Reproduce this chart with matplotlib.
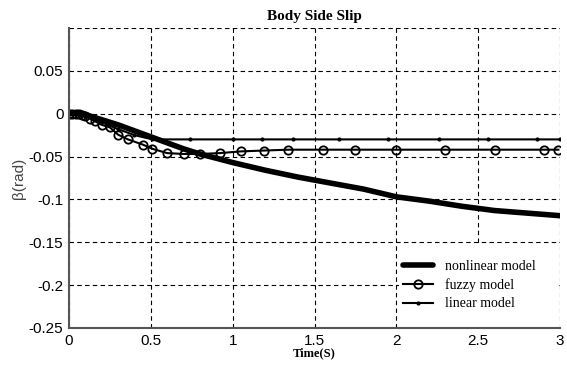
import numpy as np
import matplotlib.pyplot as plt
from matplotlib.patches import Rectangle

# nonlinear model
t_nl = [0, 0.05, 0.1, 0.15, 0.2, 0.3, 0.4, 0.5, 0.6, 0.7, 0.8, 0.9, 1.0, 1.2,
        1.4, 1.6, 1.8, 2.0, 2.2, 2.4, 2.6, 2.8, 3.0]
b_nl = [0, 0, -0.001, -0.004, -0.007, -0.013, -0.020, -0.027, -0.034, -0.041,
        -0.047, -0.052, -0.057, -0.066, -0.074, -0.081, -0.088, -0.097,
        -0.102, -0.108, -0.113, -0.116, -0.119]

# fuzzy model
t_fz = [0, 0.02, 0.04, 0.06, 0.08, 0.1, 0.13, 0.16, 0.2, 0.25, 0.3, 0.36, 0.45,
        0.51, 0.6, 0.7, 0.8, 0.92, 1.05, 1.19, 1.34, 1.55, 1.75, 2.0, 2.3,
        2.6, 2.9, 2.99]
b_fz = [0, 0, 0, 0, -0.001, -0.003, -0.006, -0.009, -0.013, -0.016, -0.0245,
        -0.030, -0.036, -0.041, -0.046, -0.047, -0.047, -0.046, -0.044,
        -0.043, -0.042, -0.042, -0.042, -0.042, -0.042, -0.042, -0.042, -0.042]

# linear model
t_ln = [0, 0.1, 0.2, 0.3, 0.4, 0.51, 0.74, 1.0, 1.18, 1.37, 1.65, 1.95, 2.26,
        2.56, 2.86, 3.0]
b_ln = [0, -0.003, -0.010, -0.018, -0.025, -0.030, -0.030, -0.030, -0.030,
        -0.030, -0.030, -0.030, -0.030, -0.030, -0.030, -0.030]

xticks = [0, 0.5, 1, 1.5, 2, 2.5, 3]
yticks = [-0.25, -0.2, -0.15, -0.1, -0.05, 0, 0.05, 0.1]
ylabels = ['-0.25', '-0.2', '-0.15', '-0.1', '-0.05', '0', '0.05', '']

fig = plt.figure(figsize=(5.67, 3.65), dpi=100)
ax = fig.add_axes([0.1217, 0.1014, 0.866, 0.822])

ax.plot(t_nl, b_nl, color='black', linewidth=4, label='nonlinear model',
        solid_capstyle='round')
ax.plot(t_fz, b_fz, color='black', linewidth=1.5, marker='o', markersize=6,
        markerfacecolor='none', markeredgewidth=1.3, label='fuzzy model')
ax.plot(t_ln, b_ln, color='black', linewidth=1.5, marker='.', markersize=4,
        label='linear model')

ax.set_xlim(0, 3)
ax.set_ylim(-0.25, 0.1)
ax.set_xticks(xticks)
ax.set_xticklabels([str(v) for v in xticks])
ax.set_yticks(yticks)
ax.set_yticklabels(ylabels)
ax.tick_params(length=0, labelsize=11, pad=4)
for lab in ax.get_xticklabels() + ax.get_yticklabels():
    lab.set_fontfamily('Liberation Sans')

ax.grid(True, linestyle=(0, (4, 3)), color='black', linewidth=0.8)
ax.set_axisbelow(True)
for s in ['top', 'right']:
    ax.spines[s].set_visible(False)
for s in ['left', 'bottom']:
    ax.spines[s].set_color('#555555')
    ax.spines[s].set_linewidth(1.5)

# white legend box (hides the grid behind the legend, as in the original)
ax.add_patch(Rectangle((0.672, 0.0), 0.322, 0.275, transform=ax.transAxes,
                       facecolor='white', edgecolor='none', zorder=1))

ax.set_title('Body Side Slip', fontfamily='Liberation Serif',
             fontweight='bold', fontsize=11, pad=6)
ax.set_xlabel('Time(S)', fontfamily='Liberation Serif', fontweight='bold',
              fontsize=9, labelpad=0)
ax.set_ylabel('β(rad)', fontfamily='Liberation Sans', fontsize=11,
              color='#444444', labelpad=2)

ax.legend(loc='lower right', bbox_to_anchor=(0.975, 0.017), frameon=False,
          prop={'family': 'Liberation Serif', 'size': 10},
          handlelength=2.2, labelspacing=0.38, handletextpad=0.8)

fig.savefig('out.png', dpi=100)
